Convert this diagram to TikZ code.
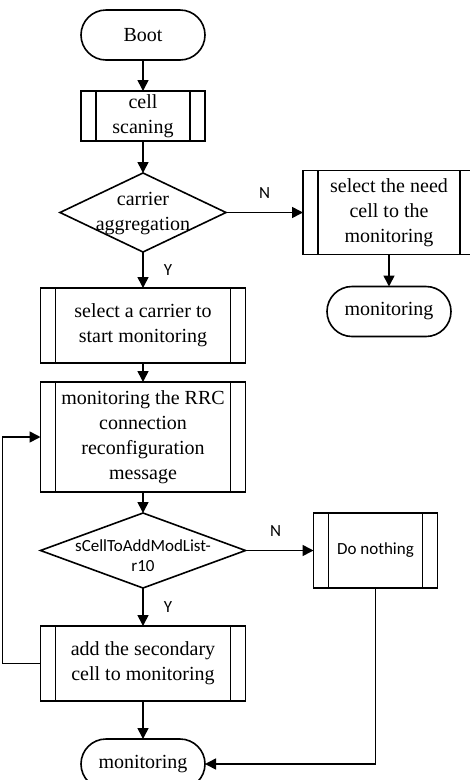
\documentclass[tikz,border=0pt]{standalone}
\usepackage{fontspec}
\setmainfont{Liberation Serif}
\newfontfamily\lblfont{Carlito}
\usetikzlibrary{positioning, arrows.meta, shapes.geometric}

\begin{document}
\begin{tikzpicture}[
    line width=1.6pt,
    font=\fontsize{20}{25}\selectfont,
    term/.style={
      rectangle, rounded corners=25pt, draw,
      minimum width=124pt, minimum height=50pt,
      inner sep=0pt, outer sep=0pt
    },
    proc/.style={
      rectangle, draw, align=center, inner sep=0pt, outer sep=0pt,
      minimum width=205pt, minimum height=75pt,
      path picture={
        \draw ([xshift=15pt]path picture bounding box.north west)
           -- ([xshift=15pt]path picture bounding box.south west)
              ([xshift=-15pt]path picture bounding box.north east)
           -- ([xshift=-15pt]path picture bounding box.south east);
      }
    },
    decision/.style={
      diamond, draw, inner sep=0pt, outer sep=0pt,
      minimum width=205pt, minimum height=75pt
    },
    lbl/.style={font=\lblfont\fontsize{17}{20}\selectfont, inner sep=0pt, align=center},
    arr/.style={-{Triangle[length=11pt, width=11pt]}}
  ]
    \useasboundingbox (0,0) rectangle (470pt,-780pt);

    \node[term]  (boot)  at (143pt,-35pt) {Boot};
    \node[proc, minimum width=124pt, minimum height=50pt] (scan) [below=31pt of boot] {cell\\scaning};
    \node[decision, minimum width=166pt, minimum height=79pt] (aggr) [below=32pt of scan] {};
    \node[align=center, inner sep=0pt] (aggrtxt) at ([yshift=-1pt]aggr.center) {carrier\\aggregation};
    \node[proc, minimum width=172pt, minimum height=84pt] (need) [right=77pt of aggr] {select the need\\cell to the\\monitoring};
    \node[term]  (mon1)  [below=32pt of need] {monitoring};
    \node[proc]  (sel)   [below=36pt of aggr] {select a carrier to\\start monitoring};
    \node[proc, minimum height=110pt] (rrc) [below=19pt of sel] {monitoring the RRC\\connection\\reconfiguration\\message};
    \node[decision] (scell) [below=21pt of rrc] {};
    \node[lbl] (scelltxt) at ([yshift=-5pt]scell.center) {sCellToAddModList-\\r10};
    \node[proc, minimum width=124pt, font=\lblfont\fontsize{17}{20}\selectfont] (none) [right=68pt of scell] {Do nothing};
    \node[proc]  (add)   [below=38pt of scell] {add the secondary\\cell to monitoring};
    \node[term]  (mon2)  [below=38pt of add] {monitoring};

    \draw[arr] (boot) -- (scan);
    \draw[arr] (scan) -- (aggr);
    \draw[arr] (aggr) -- node[lbl, above=13pt] (n1) {N} (need);
    \draw[arr] (need) -- (mon1);
    \draw[arr] (aggr) -- node[lbl, right=20pt] (y1) {Y} (sel);
    \draw[arr] (sel) -- (rrc);
    \draw[arr] (rrc) -- (scell);
    \draw[arr] (scell) -- node[lbl, above=13pt, xshift=-4pt] (n2) {N} (none);
    \draw[arr] (scell) -- node[lbl, right=20pt] (y2) {Y} (add);
    \draw[arr] (add) -- (mon2);
    \draw[arr] (add.west) -- ++(-38pt,0) |- (rrc.west);
    \draw[arr] (none.south) |- (mon2.east);
\end{tikzpicture}
\end{document}
